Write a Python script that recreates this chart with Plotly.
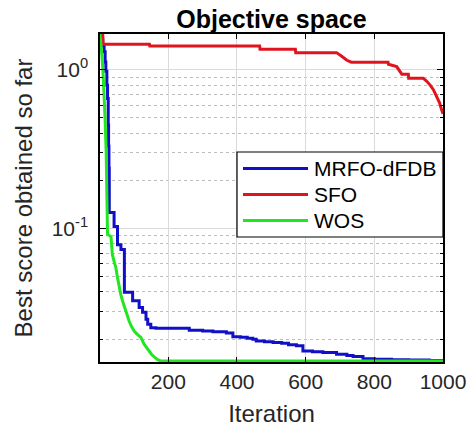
import math
import plotly.graph_objects as go

# ---------------- data ----------------
mrfo_iter = [1, 5, 9, 13, 16, 18, 21, 23, 25, 26, 27, 28, 42, 52, 62, 72, 96, 115, 125, 135, 140, 149,
             164, 261, 300, 330, 369, 388, 410, 430, 446, 456, 480, 505, 530, 550, 573, 592, 620, 650,
             690, 720, 738, 767, 800, 850, 900, 942, 960, 1000]
mrfo_val = [1.684, 1.55, 1.42, 1.30, 1.12, 0.98, 0.80, 0.66, 0.45, 0.33, 0.24, 0.126, 0.103, 0.079,
            0.0738, 0.0396, 0.0350, 0.0318, 0.0296, 0.0268, 0.0249, 0.0237,
            0.0235, 0.0228, 0.0226, 0.0223, 0.0219, 0.0208, 0.0206, 0.0203, 0.0200, 0.0195, 0.0193,
            0.0191, 0.0189, 0.0185, 0.0182, 0.0169, 0.0167, 0.0165,
            0.0161, 0.0158, 0.0156, 0.0151, 0.0150, 0.0149, 0.0148, 0.0148, 0.0147, 0.01459]

sfo_iter = [1, 9, 10, 145, 146, 466, 467, 570, 571, 690, 705, 720, 733, 840, 841, 855, 865, 880, 899,
            900, 942, 952, 962, 972, 982, 990, 996, 1000]
sfo_val = [1.684, 1.684, 1.451, 1.451, 1.416, 1.416, 1.349, 1.349, 1.285, 1.285, 1.22, 1.15, 1.118,
           1.118, 1.086, 1.07, 1.049, 0.94, 0.94, 0.887, 0.887, 0.85, 0.805, 0.75, 0.68, 0.62, 0.56, 0.53]

wos_iter = [1, 4, 7, 10, 13, 16, 19, 21, 22, 23, 33, 35, 37, 42, 47, 52, 57, 62, 67, 76, 86, 94, 101,
            110, 120, 130, 138, 145, 152, 159, 169, 179, 1000]
wos_val = [1.684, 1.45, 1.2, 0.95, 0.70, 0.48, 0.30, 0.20, 0.16, 0.0917, 0.089, 0.078, 0.0686, 0.062,
           0.0569, 0.049, 0.0425, 0.038, 0.0348, 0.0301, 0.026, 0.0238, 0.0225,
           0.0215, 0.0206, 0.0186, 0.0175, 0.0166, 0.016, 0.0155, 0.0149, 0.01459, 0.01459]

series_names = ["MRFO-dFDB", "SFO", "WOS"]
series_colors = ["#1010c8", "#e0141e", "#22e622"]

x_ticks = [200, 400, 600, 800, 1000]
y_ticks = [0.1, 1]
y_ticktext = ["10<sup>-1</sup>", "10<sup>0</sup>"]
y_minor = [0.02, 0.03, 0.04, 0.05, 0.06, 0.07, 0.08, 0.09, 0.2, 0.3, 0.4, 0.5, 0.6, 0.7, 0.8, 0.9]

y_range = [math.log10(0.01440), math.log10(1.684)]
x_range = [1, 1000]

FONT = "Liberation Sans, Arial, sans-serif"

# plot area geometry (px) used to place the legend box
W, H = 476, 428
ML, MR, MT, MB = 100, 33, 34, 66
PW, PH = W - ML - MR, H - MT - MB


def px_x(px):
    return (px - ML) / PW


def px_y(py):
    return (H - MB - py) / PH


fig = go.Figure()
all_x = [mrfo_iter, sfo_iter, wos_iter]
all_y = [mrfo_val, sfo_val, wos_val]
shapes_ = ["hv", "linear", "linear"]
for xs, ys, nm, col, shp in zip(all_x, all_y, series_names, series_colors, shapes_):
    fig.add_trace(go.Scatter(x=xs, y=ys, mode="lines", name=nm, showlegend=False,
                             line=dict(color=col, width=3, shape=shp)))

# legend (drawn as box + samples + text, MATLAB style)
shapes = [dict(type="rect", xref="paper", yref="paper",
               x0=px_x(237), x1=px_x(443), y0=px_y(237), y1=px_y(152),
               line=dict(color="black", width=1.2), fillcolor="white", layer="above")]
annotations = []
row_y = [168.5, 194.5, 220.5]
for nm, col, ry in zip(series_names, series_colors, row_y):
    shapes.append(dict(type="line", xref="paper", yref="paper",
                       x0=px_x(243), x1=px_x(308), y0=px_y(ry), y1=px_y(ry),
                       line=dict(color=col, width=3), layer="above"))
    annotations.append(dict(text=nm, xref="paper", yref="paper", x=px_x(312), y=px_y(ry),
                            xanchor="left", yanchor="middle", showarrow=False,
                            font=dict(family=FONT, size=21, color="black")))

fig.update_layout(
    width=W, height=H,
    margin=dict(l=ML, r=MR, t=MT, b=MB, autoexpand=False),
    paper_bgcolor="white", plot_bgcolor="white",
    font=dict(family=FONT, color="#262626", size=21),
    title=dict(text="<b>Objective space</b>", x=0.5, xref="paper", xanchor="center",
               y=1 - 19 / H, yref="container", yanchor="middle",
               font=dict(family=FONT, size=25, color="black")),
    showlegend=False,
    shapes=shapes,
    annotations=annotations,
)

fig.update_xaxes(
    range=x_range, tickmode="array", tickvals=x_ticks, automargin=False,
    ticks="inside", ticklen=5, tickwidth=1, tickcolor="black",
    showline=True, linecolor="black", linewidth=1.5, mirror="ticks",
    showgrid=True, gridcolor="#dadada", gridwidth=1.2, zeroline=False,
    tickfont=dict(family=FONT, size=21, color="#262626"),
    title=dict(text="Iteration", font=dict(family=FONT, size=24, color="#262626"), standoff=13),
)
fig.update_yaxes(
    type="log", range=y_range, tickmode="array", tickvals=y_ticks, ticktext=y_ticktext,
    automargin=False,
    ticks="inside", ticklen=6, tickwidth=1, tickcolor="black",
    showline=True, linecolor="black", linewidth=1.5, mirror="ticks",
    showgrid=True, gridcolor="#dadada", gridwidth=1.2, zeroline=False,
    ticklabelstandoff=6,
    tickfont=dict(family=FONT, size=21, color="#262626"),
    minor=dict(tickmode="array", tickvals=y_minor, ticks="inside", ticklen=3, tickcolor="black",
               showgrid=True, gridcolor="#bdbdbd", griddash="dot", gridwidth=1),
    title=dict(text="Best score obtained so far", font=dict(family=FONT, size=24, color="#262626"),
               standoff=12),
)

fig.write_html("out.html")
